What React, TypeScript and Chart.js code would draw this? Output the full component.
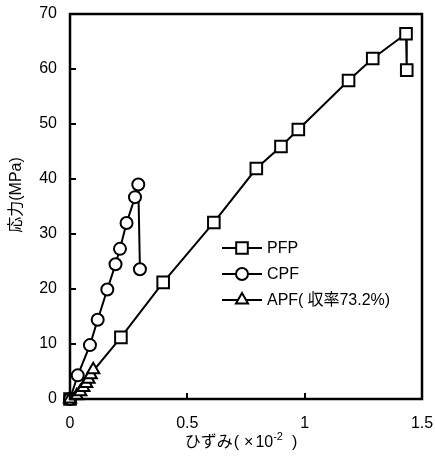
import React, { useEffect, useRef } from "react";
import { Chart, registerables } from "chart.js";

Chart.register(...registerables);

const pfpX = [0, 0.217, 0.397, 0.613, 0.794, 0.899, 0.973, 1.187, 1.29, 1.432, 1.435];
const pfpY = [0, 11.2, 21.2, 32.1, 41.9, 45.9, 49.0, 57.9, 61.9, 66.4, 59.8];

const cpfX = [0, 0.033, 0.085, 0.118, 0.159, 0.194, 0.213, 0.241, 0.277, 0.291, 0.298];
const cpfY = [0, 4.3, 9.8, 14.4, 19.9, 24.5, 27.3, 32.0, 36.7, 39.0, 23.6];

const apfX = [0, 0.029, 0.044, 0.057, 0.069, 0.079, 0.0885, 0.099];
const apfY = [0, 0.6, 1.3, 2.1, 2.8, 3.6, 4.4, 5.3];

const seriesNames = ["PFP", "CPF", "APF(収率73.2%)"];
const xTicks = [0, 0.5, 1, 1.5];
const yTicks = [0, 10, 20, 30, 40, 50, 60, 70];
const yTitle = "応力(MPa)";
const xTitleParts = ["ひずみ", "(", "×", "10", "-2", ")"];

const FONT = "'Liberation Sans', Arial, 'Noto Sans CJK JP', sans-serif";

const toPts = (xs: number[], ys: number[]) => xs.map((x, i) => ({ x, y: ys[i] }));

export default function App() {
  const ref = useRef<HTMLCanvasElement | null>(null);

  useEffect(() => {
    if (!ref.current) return;
    const styles = ["rect", "circle", "triangle"];
    const radii = [8.2, 6, 7];

    function drawMarker(ctx: CanvasRenderingContext2D, style: string, r: number, x: number, y: number) {
      ctx.beginPath();
      if (style === "rect") {
        const s = Math.SQRT1_2 * r;
        ctx.rect(x - s, y - s, 2 * s, 2 * s);
      } else if (style === "circle") {
        ctx.arc(x, y, r, 0, Math.PI * 2);
      } else {
        const a = (r * Math.sqrt(3)) / 2;
        ctx.moveTo(x, y - r);
        ctx.lineTo(x + a, y + r / 2);
        ctx.lineTo(x - a, y + r / 2);
        ctx.closePath();
      }
      ctx.fill();
      ctx.stroke();
    }

    const framePlugin = {
      id: "frame",
      afterDraw(chart: any) {
        const { ctx, chartArea } = chart;
        const xs = chart.scales.x;
        const ys = chart.scales.y;
        ctx.save();
        ctx.strokeStyle = "#000";
        ctx.lineWidth = 2.5;
        ctx.strokeRect(chartArea.left, chartArea.top, chartArea.right - chartArea.left, chartArea.bottom - chartArea.top);
        ctx.lineWidth = 2;
        yTicks.forEach((v) => {
          if (v === 0 || v === 70) return;
          const py = Math.round(ys.getPixelForValue(v));
          ctx.beginPath();
          ctx.moveTo(chartArea.left, py);
          ctx.lineTo(chartArea.left + 6, py);
          ctx.stroke();
        });
        xTicks.forEach((v) => {
          if (v === 0 || v === 1.5) return;
          const px = Math.round(xs.getPixelForValue(v));
          ctx.beginPath();
          ctx.moveTo(px, chartArea.bottom);
          ctx.lineTo(px, chartArea.bottom - 6);
          ctx.stroke();
        });
        // legend
        const lx0 = 222, lx1 = 262, mx = 242, tx = 267;
        const rows = [248, 274, 300];
        rows.forEach((ry, i) => {
          ctx.strokeStyle = "#000";
          ctx.lineWidth = 2;
          ctx.beginPath();
          ctx.moveTo(lx0, ry);
          ctx.lineTo(lx1, ry);
          ctx.stroke();
          ctx.fillStyle = "#fff";
          drawMarker(ctx, styles[i], radii[i], mx, ry);
          ctx.fillStyle = "#000";
          ctx.font = `16px ${FONT}`;
          ctx.textAlign = "left";
          ctx.textBaseline = "middle";
          const name = seriesNames[i];
          const k = name.indexOf("(");
          if (k >= 0) {
            const a = name.slice(0, k + 1);
            const b = name.slice(k + 1);
            ctx.fillText(a, tx, ry + 1);
            ctx.fillText(b, tx + ctx.measureText(a).width + 4, ry + 1);
          } else {
            ctx.fillText(name, tx, ry + 1);
          }
        });
        // y title
        ctx.save();
        ctx.translate(17, 195);
        ctx.rotate(-Math.PI / 2);
        ctx.font = `16px ${FONT}`;
        ctx.textAlign = "center";
        ctx.textBaseline = "middle";
        ctx.fillStyle = "#000";
        ctx.fillText(yTitle, 0, 0);
        ctx.restore();
        // x title
        const by = 447;
        ctx.fillStyle = "#000";
        ctx.textAlign = "left";
        ctx.textBaseline = "alphabetic";
        ctx.font = `16px ${FONT}`;
        const wMain = ctx.measureText(xTitleParts[0]).width;
        const wP = ctx.measureText(xTitleParts[1]).width;
        const wX = ctx.measureText(xTitleParts[2]).width;
        const w10 = ctx.measureText(xTitleParts[3]).width;
        ctx.font = `11px ${FONT}`;
        const wS = ctx.measureText(xTitleParts[4]).width;
        ctx.font = `16px ${FONT}`;
        const wE = ctx.measureText(xTitleParts[5]).width;
        const gaps = [1, 5, 2, 0, 9];
        const total = wMain + wP + wX + w10 + wS + wE + gaps.reduce((a, b) => a + b, 0);
        let cx = 241 - total / 2;
        ctx.fillText(xTitleParts[0], cx, by);
        cx += wMain + gaps[0];
        ctx.fillText(xTitleParts[1], cx, by);
        cx += wP + gaps[1];
        ctx.fillText(xTitleParts[2], cx, by);
        cx += wX + gaps[2];
        ctx.fillText(xTitleParts[3], cx, by);
        cx += w10 + gaps[3];
        ctx.font = `11px ${FONT}`;
        ctx.fillText(xTitleParts[4], cx, by - 7);
        cx += wS + gaps[4];
        ctx.font = `16px ${FONT}`;
        ctx.fillText(xTitleParts[5], cx, by);
        ctx.restore();
      },
    };

    const mk = (label: string, data: any[], i: number) => ({
      label,
      data,
      borderColor: "#000",
      backgroundColor: "#fff",
      borderWidth: 2,
      pointStyle: styles[i],
      pointRadius: radii[i],
      pointBorderWidth: 2,
      pointBackgroundColor: "#fff",
      pointBorderColor: "#000",
      showLine: true,
      tension: 0,
      clip: false,
    });

    const chart = new Chart(ref.current, {
      type: "scatter",
      data: {
        datasets: [
          mk(seriesNames[2], toPts(apfX, apfY), 2),
          mk(seriesNames[1], toPts(cpfX, cpfY), 1),
          mk(seriesNames[0], toPts(pfpX, pfpY), 0),
        ],
      },
      options: {
        animation: false,
        responsive: false,
        maintainAspectRatio: false,
        layout: { padding: { top: 14, right: 13, left: 0, bottom: 0 } },
        plugins: { legend: { display: false }, tooltip: { enabled: false } },
        scales: {
          x: {
            type: "linear",
            min: 0,
            max: 1.5,
            afterFit: (s: any) => {
              s.height = 67;
              s.paddingLeft = 0;
              s.paddingRight = 0;
            },
            afterBuildTicks: (s: any) => {
              s.ticks = xTicks.map((v) => ({ value: v }));
            },
            grid: { display: false, drawTicks: false },
            border: { display: false },
            ticks: {
              padding: 15,
              color: "#000",
              font: { family: FONT, size: 16 },
              maxRotation: 0,
              callback: (v: any) => String(v),
            },
          },
          y: {
            type: "linear",
            min: 0,
            max: 70,
            afterFit: (s: any) => {
              s.width = 70;
              s.paddingTop = 0;
              s.paddingBottom = 0;
            },
            afterBuildTicks: (s: any) => {
              s.ticks = yTicks.map((v) => ({ value: v }));
            },
            grid: { display: false, drawTicks: false },
            border: { display: false },
            ticks: {
              padding: 13,
              color: "#000",
              font: { family: FONT, size: 16 },
              callback: (v: any) => String(v),
            },
          },
        },
      },
      plugins: [framePlugin],
    } as any);
    return () => chart.destroy();
  }, []);

  return (
    <div style={{ position: "absolute", left: 0, top: 0, width: 435, height: 466, background: "#fff" }}>
      <canvas ref={ref} width={435} height={466} style={{ width: 435, height: 466 }} />
    </div>
  );
}
